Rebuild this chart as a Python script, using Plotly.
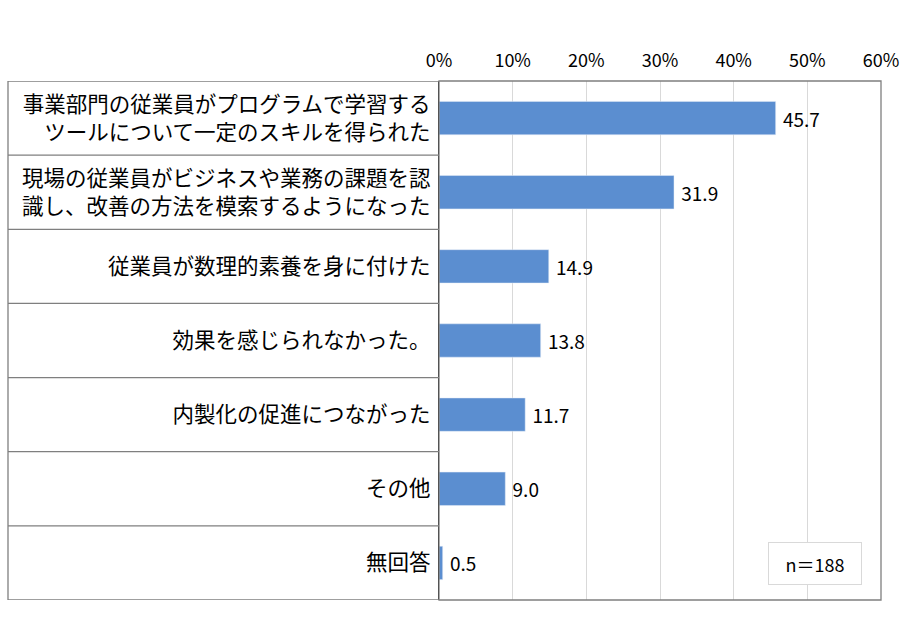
import plotly.graph_objects as go

categories = [
    "事業部門の従業員がプログラムで学習する<br>ツールについて一定のスキルを得られた",
    "現場の従業員がビジネスや業務の課題を認<br>識し、改善の方法を模索するようになった",
    "従業員が数理的素養を身に付けた",
    "効果を感じられなかった。",
    "内製化の促進につながった",
    "その他",
    "無回答",
]
values = [45.7, 31.9, 14.9, 13.8, 11.7, 9.0, 0.5]
tick_vals = [0, 10, 20, 30, 40, 50, 60]
tick_text = ["0%", "10%", "20%", "30%", "40%", "50%", "60%"]
sample_note = "n＝188"

font_family = "Noto Sans CJK JP"
line_col = "#7f7f7f"

fig = go.Figure(
    go.Bar(
        x=values,
        y=list(range(len(categories))),
        orientation="h",
        marker=dict(color="#5B8ED0"),
        width=0.45,
        texttemplate=" %{x:.1f}",
        textposition="outside",
        textfont=dict(size=19, color="#000000", family=font_family),
        cliponaxis=False,
        hoverinfo="skip",
    )
)

# table-like boxes on the left for the category labels
shapes = []
n = len(categories)
left_edge = -431 / 442
for i in range(n + 1):
    shapes.append(dict(
        type="line", xref="paper", yref="y",
        x0=left_edge, x1=0, y0=i - 0.5, y1=i - 0.5,
        line=dict(color=line_col, width=1.3),
    ))
shapes.append(dict(
    type="line", xref="paper", yref="y",
    x0=left_edge, x1=left_edge, y0=-0.5, y1=n - 0.5,
    line=dict(color=line_col, width=1.3),
))
# plot area frame
shapes.append(dict(
    type="rect", xref="paper", yref="paper",
    x0=0, x1=1, y0=0, y1=1,
    line=dict(color=line_col, width=1.3),
))

fig.update_layout(
    width=900,
    height=625,
    margin=dict(l=439, r=19, t=81, b=25),
    paper_bgcolor="white",
    plot_bgcolor="white",
    font=dict(family=font_family, color="#000000"),
    showlegend=False,
    shapes=shapes,
    xaxis=dict(
        side="top",
        range=[0, 60],
        tickvals=tick_vals,
        ticktext=tick_text,
        tickfont=dict(size=18, family=font_family),
        showgrid=True,
        gridcolor="#d9d9d9",
        gridwidth=1,
        zeroline=False,
        showline=False,
        ticks="",
        ticklabelstandoff=9,
        automargin=False,
        fixedrange=True,
    ),
    yaxis=dict(
        tickvals=list(range(n)),
        ticktext=categories,
        tickfont=dict(size=21.5, family=font_family),
        range=[n - 0.5, -0.5],
        showgrid=False,
        zeroline=False,
        showline=True,
        linecolor="#000000",
        linewidth=1.3,
        ticks="",
        ticklabelstandoff=3,
        automargin=False,
        fixedrange=True,
    ),
    annotations=[
        dict(
            text=sample_note,
            xref="paper", yref="paper",
            x=0.957, y=0.029,
            xanchor="right", yanchor="bottom",
            showarrow=False,
            width=90,
            height=39,
            font=dict(size=18, family=font_family),
            bordercolor="#d9d9d9",
            borderwidth=1,
            borderpad=1,
            bgcolor="white",
        )
    ],
)

fig.write_html(
    "out.html",
    config={"displayModeBar": False},
    post_script="document.body.style.margin='0';",
)
